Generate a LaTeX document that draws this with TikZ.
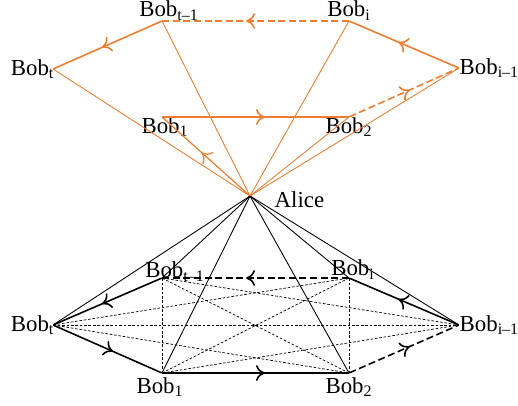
\documentclass[tikz,border=0pt]{standalone}
\usepackage{fontspec}
\setmainfont{Liberation Serif}
\usetikzlibrary{arrows.meta,decorations.markings}
\definecolor{bobo}{RGB}{237,125,49}
\tikzset{
  pt/.style={inner sep=0pt,minimum size=0pt},
  lbl/.style={inner sep=0pt,font=\fontsize{13}{15}\selectfont},
  midarrow/.style={postaction={decorate,decoration={markings,
    mark=at position 0.55 with {\arrow{Computer Modern Rightarrow[length=5pt,width=9pt]}}}}},
  ring/.style={line width=0.9pt},
  link/.style={line width=0.5pt},
  chord/.style={line width=0.4pt,dash pattern=on 1.5pt off 1pt},
  gap/.style={dash pattern=on 4pt off 2pt}
}
\begin{document}
\begin{tikzpicture}
\useasboundingbox (-5,-4.18) rectangle (5.36,3.92);
\node[pt,label={[lbl,label distance=0.48cm,yshift=-0.07cm]right:Alice}](a) at(0,0){};
% upper graph
\node[pt,label={[lbl,xshift=0.06cm]below:Bob\textsubscript{1}}](p1) at(-1.76,1.58){};
\node[pt,label={[lbl]below:Bob\textsubscript{2}}](p2) at(1.98,1.58){};
\node[pt,label={[lbl]right:Bob\textsubscript{i–1}}](p3) at(4.18,2.56){};
\node[pt,label={[lbl]above:Bob\textsubscript{i}}](p4) at(1.98,3.5){};
\node[pt,label={[lbl,xshift=0.14cm]above:Bob\textsubscript{t–1}}](p5) at(-1.76,3.5){};
\node[pt,label={[lbl,xshift=0.04cm]left:Bob\textsubscript{t}}](p6) at(-3.94,2.54){};
\draw[bobo,link](a)--(p6);
\draw[bobo,link](a)--(p5);
\draw[bobo,link](a)--(p4);
\draw[bobo,link](a)--(p3);
\draw[bobo,link](a)--(p2);
\draw[bobo,line width=0.7pt,midarrow](a)--(p1);
\draw[bobo,ring,midarrow](p1)--(p2);
\draw[bobo,ring,gap,midarrow](p2)--(p3);
\draw[bobo,ring,midarrow](p3)--(p4);
\draw[bobo,ring,gap,midarrow](p4)--(p5);
\draw[bobo,ring,midarrow](p5)--(p6);
% lower graph
\node[pt,label={[lbl,label distance=0.08cm,xshift=-0.04cm]below:Bob\textsubscript{1}}](q1) at(-1.76,-3.54){};
\node[pt,label={[lbl,label distance=0.08cm]below:Bob\textsubscript{2}}](q2) at(1.98,-3.54){};
\node[pt,label={[lbl]right:Bob\textsubscript{i–1}}](q3) at(4.18,-2.58){};
\node[pt,label={[lbl,xshift=0.08cm,yshift=-0.04cm]above:Bob\textsubscript{i}}](q4) at(1.98,-1.64){};
\node[pt,label={[lbl,xshift=0.26cm,yshift=-0.08cm]above:Bob\textsubscript{t–1}}](q5) at(-1.76,-1.64){};
\node[pt,label={[lbl,xshift=0.04cm]left:Bob\textsubscript{t}}](q6) at(-3.94,-2.58){};
\draw[link](a)--(q1);
\draw[link](a)--(q2);
\draw[link](a)--(q3);
\draw[link](a)--(q4);
\draw[link](a)--(q5);
\draw[link](a)--(q6);

\draw[chord](q6)--(q4);
\draw[chord](q6)--(q3);
\draw[chord](q6)--(q2);
\draw[chord](q5)--(q1);
\draw[chord](q5)--(q2);
\draw[chord](q5)--(q3);
\draw[chord](q4)--(q1);
\draw[chord](q4)--(q2);
\draw[chord](q1)--(q3);

\draw[ring,midarrow](q1)--(q2);
\draw[ring,gap,midarrow](q2)--(q3);
\draw[ring,midarrow](q3)--(q4);
\draw[ring,gap,midarrow](q4)--(q5);
\draw[ring,midarrow](q5)--(q6);
\draw[ring,midarrow](q6)--(q1);
\end{tikzpicture}
\end{document}
